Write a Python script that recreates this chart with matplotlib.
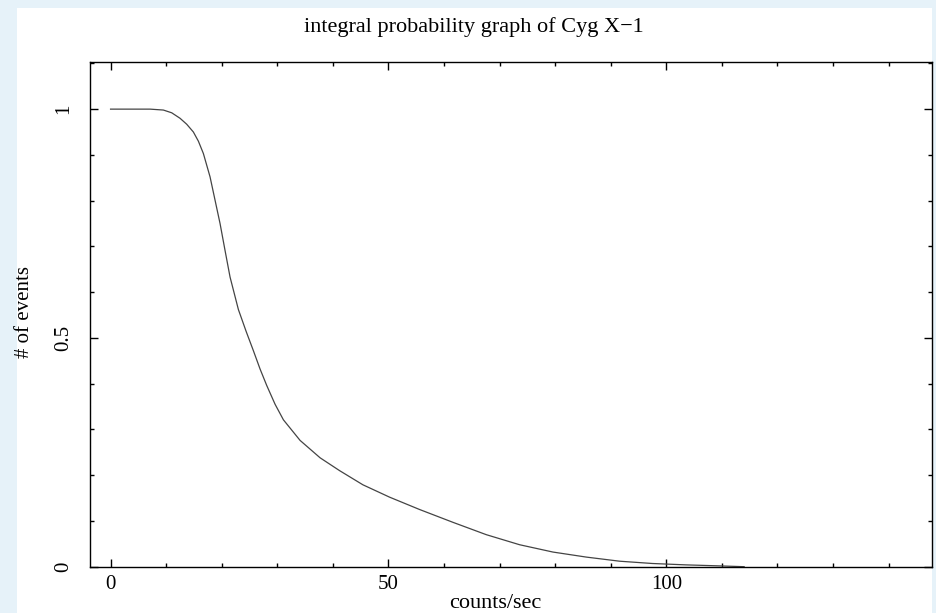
import matplotlib
matplotlib.use('Agg')
import matplotlib.pyplot as plt
from matplotlib.patches import Rectangle
from matplotlib.ticker import MultipleLocator

# values
rate = [0, 3, 7.1, 9.5, 11.0, 12.5, 13.7, 14.9, 15.8, 16.7, 17.9, 18.8, 19.7,
        20.6, 21.5, 23.0, 24.4, 25.7, 26.9, 28.1, 29.6, 31.1, 34.1, 37.7,
        41.2, 45.4, 50.2, 55.6, 61.6, 67.6, 73.6, 79.6, 85.6, 91.6, 97.5,
        103.5, 109, 114]
prob = [1.0, 1.0, 1.0, 0.998, 0.992, 0.98, 0.967, 0.95, 0.93, 0.903, 0.852,
        0.801, 0.75, 0.691, 0.633, 0.562, 0.514, 0.472, 0.432, 0.396, 0.355,
        0.321, 0.276, 0.238, 0.21, 0.179, 0.152, 0.125, 0.097, 0.07, 0.048,
        0.032, 0.021, 0.012, 0.007, 0.004, 0.002, 0.0]

plt.rcParams['font.family'] = ['Liberation Serif', 'DejaVu Serif']

W, H = 937, 613
fig = plt.figure(figsize=(W / 100, H / 100), dpi=100, facecolor='#e6f2f9')
# white panel behind everything
fig.patches.append(Rectangle((17 / W, 0), (932 - 17) / W, (613 - 8) / H,
                             transform=fig.transFigure, facecolor='white',
                             edgecolor='none', zorder=-5))

ax = fig.add_axes([90 / W, (H - 566.7) / H, (932 - 90) / W, (566.7 - 62) / H])
ax.set_zorder(2)
ax.set_facecolor('white')
ax.plot(rate, prob, color='#444444', linewidth=0.9)

ax.set_xlim(-3.7, 147.8)
ax.set_ylim(0, 1.103)
ax.xaxis.set_minor_locator(MultipleLocator(10))
ax.yaxis.set_minor_locator(MultipleLocator(0.1))
ax.set_xticks([0, 50, 100])
ax.set_xticklabels(['0', '50', '100'])
ax.set_yticks([0, 0.5, 1])
ax.set_yticklabels(['0', '0.5', '1'], rotation=90, va='center')

ax.tick_params(which='both', direction='in', top=True, right=True,
               width=1, color='black', labelsize=15)
ax.tick_params(which='major', length=6)
ax.tick_params(which='minor', length=3)
ax.tick_params(axis='x', pad=6)
ax.tick_params(axis='y', pad=12)
for s in ax.spines.values():
    s.set_linewidth(1)
    s.set_color('black')

fig.text(474 / W, 1 - 27 / H, 'integral probability graph of Cyg X\u22121',
         ha='center', va='center', fontsize=16)
fig.text(495 / W, 1 - 603 / H, 'counts/sec', ha='center', va='center',
         fontsize=16)
fig.text(25 / W, 1 - 312 / H, '# of events', ha='center', va='center',
         rotation=90, fontsize=15)

fig.savefig('out.png', dpi=100, facecolor=fig.get_facecolor())
